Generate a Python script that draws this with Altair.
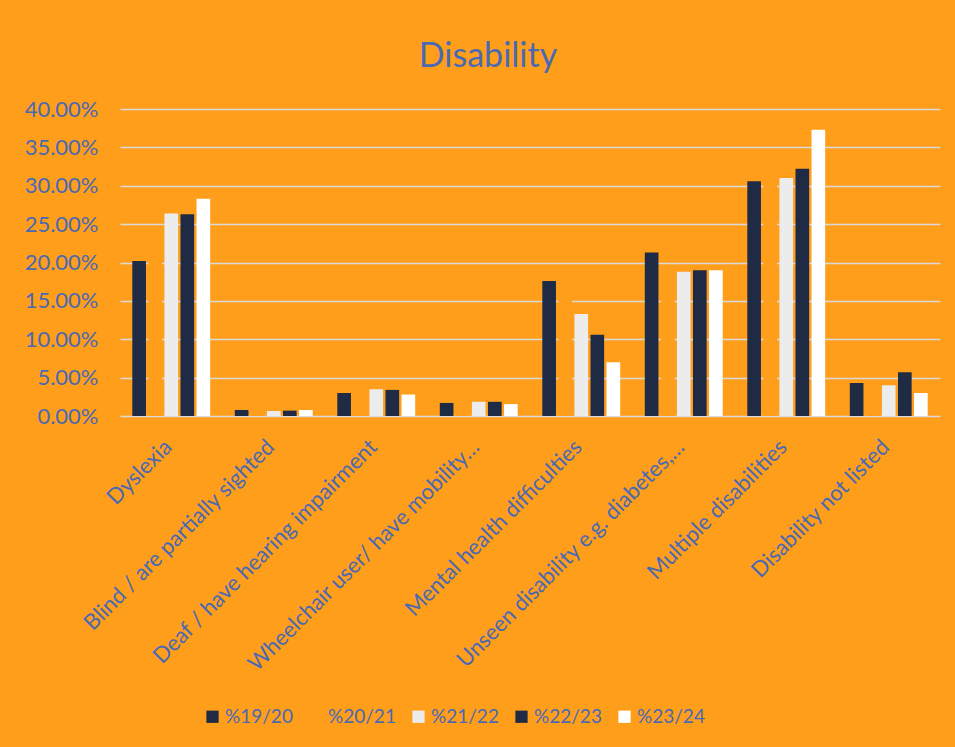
import altair as alt
import pandas as pd

categories = [
    "Dyslexia",
    "Blind / are partially sighted",
    "Deaf / have hearing impairment",
    "Wheelchair user/ have mobility…",
    "Mental health difficulties",
    "Unseen disability e.g. diabetes,…",
    "Multiple disabilities",
    "Disability not listed",
]
series = ["%19/20", "%20/21", "%21/22", "%22/23", "%23/24"]

v_1920 = [0.202, 0.0078, 0.030, 0.017, 0.176, 0.213, 0.306, 0.043]
v_2021 = [0.22, 0.005, 0.025, 0.015, 0.16, 0.17, 0.32, 0.04]
v_2122 = [0.264, 0.0065, 0.035, 0.0185, 0.133, 0.188, 0.310, 0.040]
v_2223 = [0.263, 0.007, 0.034, 0.0185, 0.106, 0.190, 0.322, 0.057]
v_2324 = [0.283, 0.0078, 0.028, 0.0155, 0.070, 0.190, 0.373, 0.030]

BG = "#FF9E1B"
TEXT = "#4a69b3"
colors = ["#1f2a44", BG, "#ececec", "#1f2a44", "#ffffff"]

rows = []
for s, vals in zip(series, [v_1920, v_2021, v_2122, v_2223, v_2324]):
    for c, v in zip(categories, vals):
        rows.append({"category": c, "series": s, "value": v})
df = pd.DataFrame(rows)

FONT = "Lato"

chart = (
    alt.Chart(df)
    .mark_bar()
    .encode(
        x=alt.X(
            "category:N",
            sort=categories,
            scale=alt.Scale(paddingInner=0.24, paddingOuter=0.12),
            axis=alt.Axis(
                title=None,
                labelAngle=-45,
                labelAlign="right",
                labelBaseline="top",
                labelFontSize=22,
                labelColor=TEXT,
                labelFont=FONT,
                labelLimit=400,
                labelPadding=20,
                labelOffset=-10,
                ticks=False,
                domain=False,
                grid=False,
            ),
        ),
        xOffset=alt.XOffset("series:N", sort=series, scale=alt.Scale(paddingInner=0.15)),
        y=alt.Y(
            "value:Q",
            scale=alt.Scale(domain=[0, 0.4]),
            axis=alt.Axis(
                title=None,
                format=".2%",
                values=[0, 0.05, 0.1, 0.15, 0.2, 0.25, 0.3, 0.35, 0.4],
                labelFontSize=22,
                labelColor=TEXT,
                labelFont=FONT,
                labelPadding=22,
                ticks=False,
                domain=False,
                grid=True,
                gridColor="#d9d9d9",
                gridWidth=1.5,
            ),
        ),
        color=alt.Color(
            "series:N",
            sort=series,
            scale=alt.Scale(domain=series, range=colors),
            legend=alt.Legend(
                title=None,
                orient="none",
                legendX=83,
                legendY=598,
                direction="horizontal",
                columns=5,
                symbolType="square",
                symbolSize=150,
                symbolStrokeWidth=0,
                labelFontSize=19,
                labelColor=TEXT,
                labelFont=FONT,
                labelOffset=3,
                columnPadding=13,
            ),
        ),
    )
    .properties(
        width=820,
        height=307,
        title=alt.TitleParams(
            "Disability",
            fontSize=34,
            font=FONT,
            fontWeight="normal",
            color=TEXT,
            anchor="middle",
            offset=24,
            dx=-42,
        ),
        background=BG,
        autosize=alt.AutoSizeParams(type="none"),
        padding={"left": 120, "top": 109, "right": 15, "bottom": 331},
    )
    .configure_view(stroke=None)
)

chart.save("out.html", embed_options={"renderer": "svg", "actions": False})
